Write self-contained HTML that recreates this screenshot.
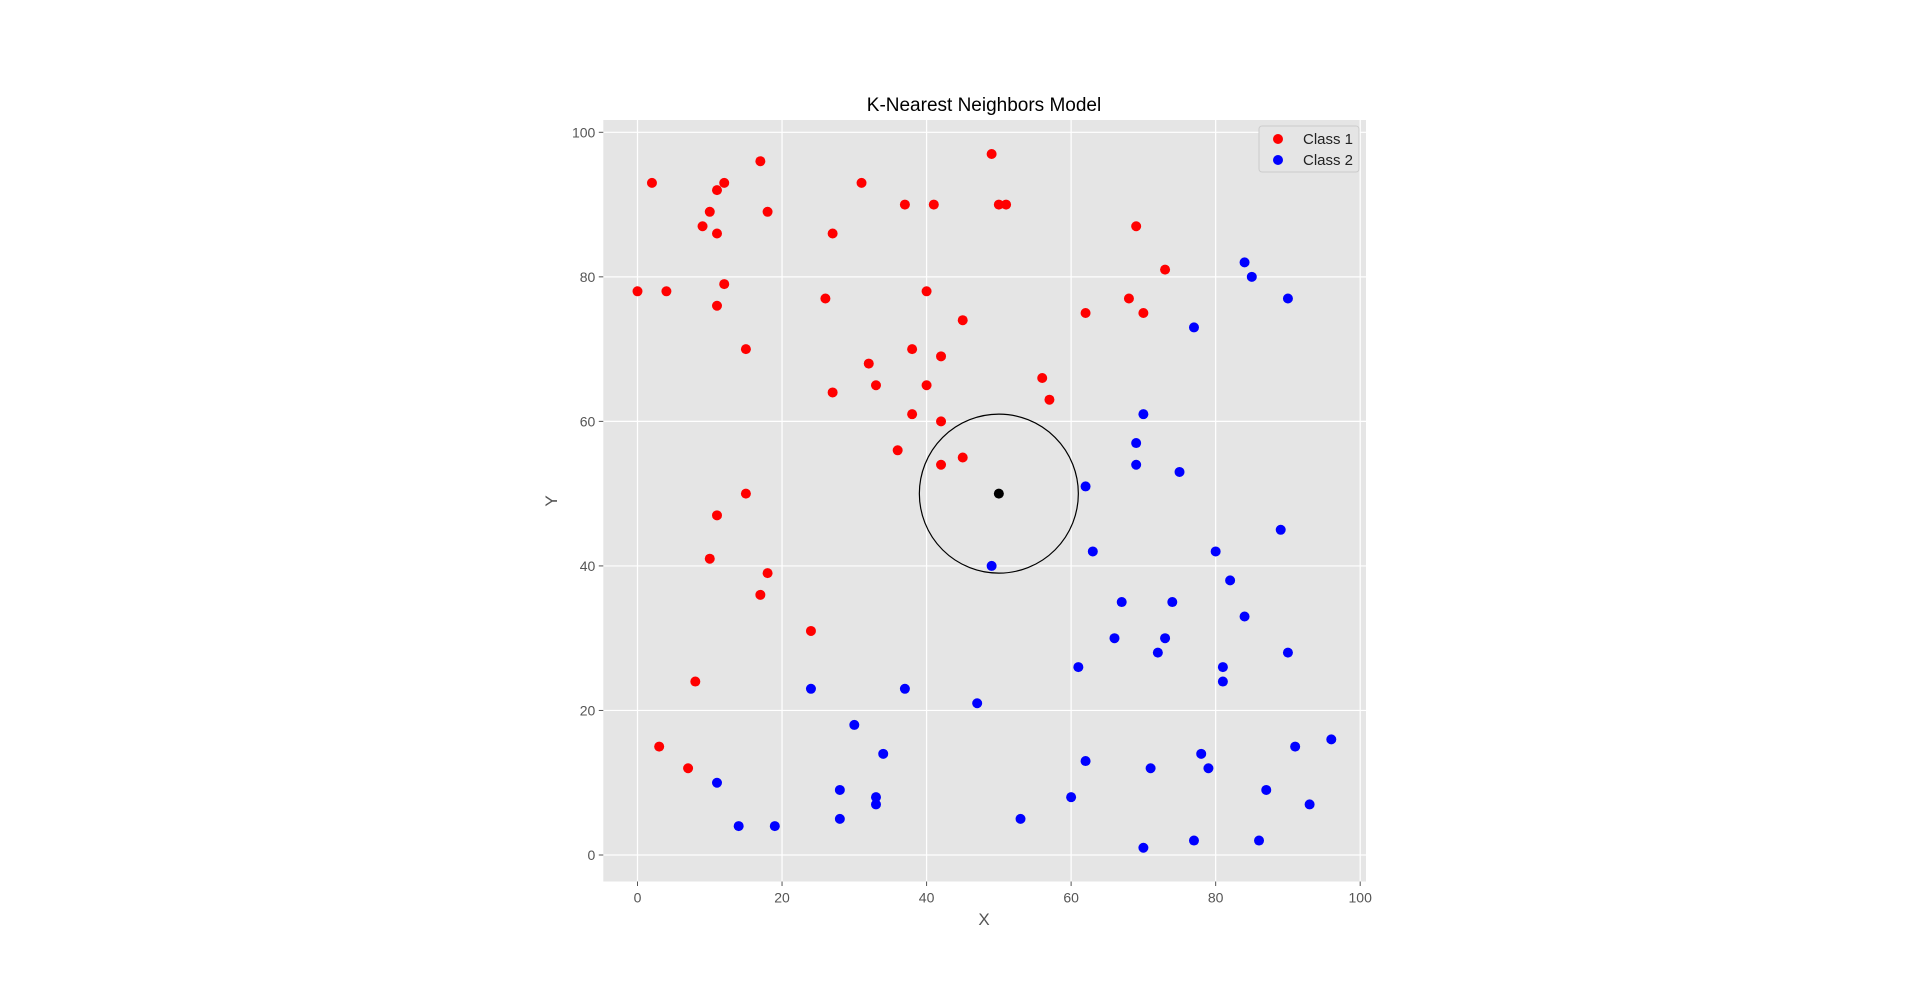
<!DOCTYPE html>
<html><head><meta charset="utf-8"><style>
body{margin:0;background:#fff;}
svg{display:block;font-family:"Liberation Sans","DejaVu Sans",sans-serif;}
</style></head><body>
<svg id="chart" width="1920" height="991">
<rect x="0" y="0" width="1920" height="991" fill="#fff"/>
<rect x="603.3" y="120" width="762.7" height="761.5" fill="#e5e5e5"/>
<g id="grid"></g>
<g id="ticks"></g>
<g id="marks"></g>
<text x="984" y="111" text-anchor="middle" font-size="19" fill="#000">K-Nearest Neighbors Model</text>
<text x="984" y="925" text-anchor="middle" font-size="17" fill="#555">X</text>
<text x="557" y="501" text-anchor="middle" font-size="17" fill="#555" transform="rotate(-90 557 501)">Y</text>
<g>
<rect x="1259" y="126" width="100" height="46" rx="3" fill="#e5e5e5" stroke="#ccc" stroke-width="1"/>
<g><circle cx="1278" cy="139" r="5" fill="#ff0000"/><text x="1303" y="144" font-size="15" fill="#222">Class 1</text></g>
<g><circle cx="1278" cy="160" r="5" fill="#0000ff"/><text x="1303" y="165" font-size="15" fill="#222">Class 2</text></g>
</g>
</svg>
<script>
const xTicks=[0,20,40,60,80,100];
const yTicks=[0,20,40,60,80,100];
const class1X=[2,11,12,17,10,9,11,18,0,4,12,11,15,15,11,10,18,17,24,8,3,7,31,27,26,37,41,49,50,51,40,45,32,38,42,27,33,40,38,42,36,42,45,56,57,62,69,68,70,73];
const class1Y=[93,92,93,96,89,87,86,89,78,78,79,76,70,50,47,41,39,36,31,24,15,12,93,86,77,90,90,97,90,90,78,74,68,70,69,64,65,65,61,60,56,54,55,66,63,75,87,77,75,81];
const class2X=[84,85,90,77,70,69,69,75,62,63,49,80,89,82,67,74,84,66,73,72,90,61,81,81,24,37,47,30,34,11,28,33,33,28,14,19,53,60,62,71,78,79,70,77,86,87,93,91,96];
const class2Y=[82,80,77,73,61,57,54,53,51,42,40,42,45,38,35,35,33,30,30,28,28,26,26,24,23,23,21,18,14,10,9,8,7,5,4,4,5,8,13,12,14,12,1,2,2,9,7,15,16];
const testX=[50];
const testY=[50];
const radius=11;
const NS='http://www.w3.org/2000/svg';
const L=603.3,R=1366,T=120,B=881.5;
function sx(v){return 637.5+7.227*v;}
function sy(v){return 855-7.227*v;}
function mk(tag,attrs,parent){const e=document.createElementNS(NS,tag);for(const k in attrs)e.setAttribute(k,attrs[k]);parent.appendChild(e);return e;}
const grid=document.getElementById('grid'),ticks=document.getElementById('ticks'),marks=document.getElementById('marks');
xTicks.forEach(v=>{
 const g=mk('line',{x1:sx(v),x2:sx(v),y1:T,y2:B,stroke:'#fff','stroke-width':1.2},grid);
 
 
 mk('line',{x1:sx(v),x2:sx(v),y1:B,y2:B+4.5,stroke:'#555','stroke-width':1},ticks);
 const t=mk('text',{x:sx(v),y:B+21,'text-anchor':'middle','font-size':14,fill:'#555'},ticks);
 t.textContent=v;
 
 
});
yTicks.forEach(v=>{
 const g=mk('line',{x1:L,x2:R,y1:sy(v),y2:sy(v),stroke:'#fff','stroke-width':1.2},grid);
 
 
 mk('line',{x1:L-4.5,x2:L,y1:sy(v),y2:sy(v),stroke:'#555','stroke-width':1},ticks);
 const t=mk('text',{x:L-8,y:sy(v)+5,'text-anchor':'end','font-size':14,fill:'#555'},ticks);
 t.textContent=v;
 
 
});
class1X.forEach((v,i)=>{
 const c=mk('circle',{cx:sx(v),cy:sy(class1Y[i]),r:5,fill:'#ff0000'},marks);
 
 
});
class2X.forEach((v,i)=>{
 const c=mk('circle',{cx:sx(v),cy:sy(class2Y[i]),r:5,fill:'#0000ff'},marks);
 
 
});
testX.forEach((v,i)=>{
 const ring=mk('circle',{cx:sx(v),cy:sy(testY[i]),r:7.227*radius,fill:'none',stroke:'#000','stroke-width':1.2},marks);
 
 
 const c=mk('circle',{cx:sx(v),cy:sy(testY[i]),r:5,fill:'#000'},marks);
 
 
});
</script>
</body></html>
